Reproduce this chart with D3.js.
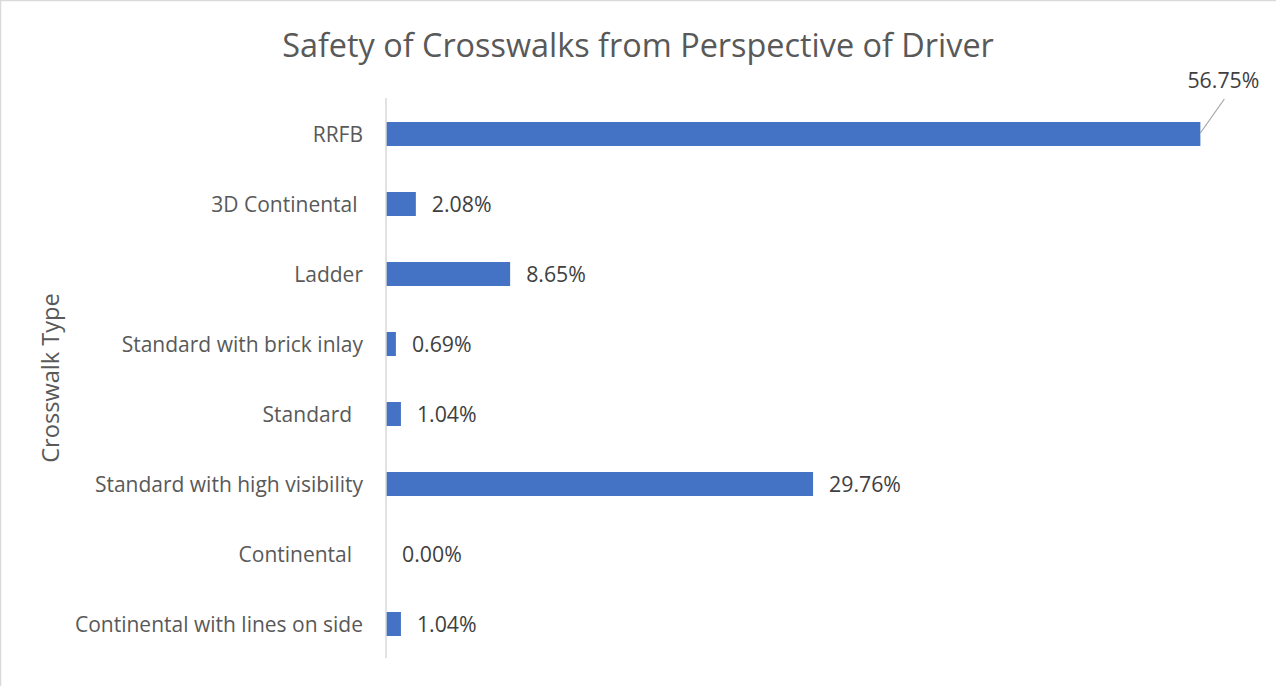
<!DOCTYPE html>
<html>
<head>
<meta charset="utf-8">
<script src="https://cdn.jsdelivr.net/npm/d3@7"></script>
<style>
  html, body { margin: 0; padding: 0; background: #ffffff; }
  svg { display: block; }
  text { font-family: "Open Sans", Lato, sans-serif; white-space: pre; }
</style>
</head>
<body>
<svg id="chart" width="1276" height="686"></svg>
<script>
// Crosswalk types, top to bottom, and the share of drivers rating each safest (%)
const categories = [
  "RRFB",
  "3D Continental ",
  "Ladder",
  "Standard with brick inlay",
  "Standard  ",
  "Standard with high visibility",
  "Continental  ",
  "Continental with lines on side"
];
const values = [56.75, 2.08, 8.65, 0.69, 1.04, 29.76, 0.00, 1.04];
const valueLabels = ["56.75%", "2.08%", "8.65%", "0.69%", "1.04%", "29.76%", "0.00%", "1.04%"];

const titleText = "Safety of Crosswalks from Perspective of Driver";
const yAxisTitle = "Crosswalk Type";

const W = 1276, H = 686;
const plot = { left: 386, top: 99, bottom: 659, right: 1247 };
const FONT = "'Open Sans', Lato, sans-serif";

const svg = d3.select("#chart");

// chart area outline
svg.append("rect")
  .attr("x", 0.5).attr("y", 0.5)
  .attr("width", W + 10).attr("height", H + 10)
  .attr("fill", "#ffffff")
  .attr("stroke", "#d9d9d9")
  .attr("stroke-width", 1.5);

const x = d3.scaleLinear().domain([0, 60]).range([plot.left, plot.right]);
const pad = 0.657;
const y = d3.scaleBand()
  .domain(categories)
  .range([plot.top, plot.bottom])
  .paddingInner(pad)
  .paddingOuter(pad / 2);

// title
svg.append("text")
  .attr("x", 638).attr("y", 57)
  .attr("text-anchor", "middle")
  .attr("fill", "#595959")
  .attr("font-size", 32.4)
  .text(titleText);

// bars
svg.append("g").selectAll("rect")
  .data(values)
  .join("rect")
  .attr("x", x(0))
  .attr("y", (d, i) => y(categories[i]))
  .attr("width", d => x(d) - x(0))
  .attr("height", y.bandwidth())
  .attr("fill", "#4472c4");

// category axis
const yAxis = d3.axisLeft(y).tickSize(0).tickPadding(23);
const gy = svg.append("g")
  .attr("transform", `translate(${x(0)},0)`)
  .call(yAxis);
gy.select(".domain")
  .attr("d", `M0,${plot.top - 1}V${plot.bottom - 1}`)
  .attr("stroke", "#d9d9d9")
  .attr("stroke-width", 1.5);
gy.selectAll(".tick text")
  .attr("fill", "#595959")
  .attr("font-size", 21)
  .attr("font-family", FONT)
  .attr("dy", "0.36em");

// axis title
svg.append("text")
  .attr("transform", "translate(59,378) rotate(-90)")
  .attr("text-anchor", "middle")
  .attr("fill", "#595959")
  .attr("font-size", 23.6)
  .text(yAxisTitle);

// data labels
const labels = svg.append("g");
values.forEach((v, i) => {
  const cy = y(categories[i]) + y.bandwidth() / 2;
  if (i === 0) {
    // label placed above the long bar with a leader line
    const bx = x(v), by = y(categories[i]);
    labels.append("line")
      .attr("x1", bx).attr("y1", by + 11)
      .attr("x2", bx + 24).attr("y2", by - 23)
      .attr("stroke", "#a6a6a6").attr("stroke-width", 1.2);
    labels.append("text")
      .attr("x", bx + 59).attr("y", by - 34)
      .attr("text-anchor", "end")
      .attr("fill", "#404040")
      .attr("font-size", 21.3)
      .text(valueLabels[i]);
  } else {
    labels.append("text")
      .attr("x", x(v) + 16).attr("y", cy)
      .attr("dy", "0.36em")
      .attr("fill", "#404040")
      .attr("font-size", 21.3)
      .text(valueLabels[i]);
  }
});
</script>
</body>
</html>
